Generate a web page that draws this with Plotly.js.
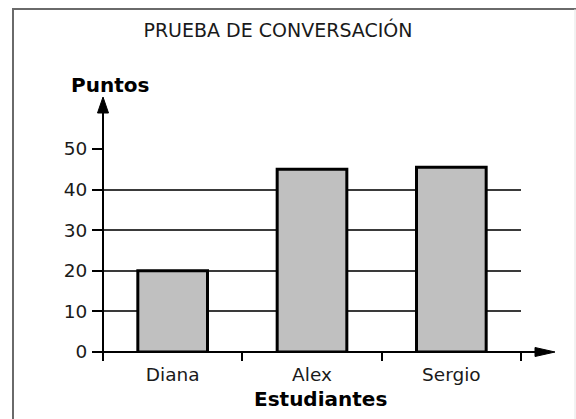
<!DOCTYPE html>
<html>
<head>
<meta charset="utf-8">
<script src="https://cdn.plot.ly/plotly-3.0.1.min.js"></script>
<style>html,body{margin:0;padding:0;background:#fff;}#chart{width:576px;height:419px;}</style>
</head>
<body>
<div id="chart"></div>
<script>
// Data
var students = ["Diana", "Alex", "Sergio"];
var points = [20, 45, 45.5];
var yTicks = [0, 10, 20, 30, 40, 50];
var chartTitle = "PRUEBA DE CONVERSACIÓN";
var yLabel = "Puntos";
var xLabel = "Estudiantes";

// Layout geometry (pixels)
var W = 576, H = 419;
var L = 103, R = 55, T = 149, B = 67;
var pw = W - L - R, ph = H - T - B;
function px(x) { return (x - L) / pw; }
function py(y) { return (H - B - y) / ph; }

var font = "DejaVu Sans, Verdana, sans-serif";

var trace = {
  type: "bar",
  x: students,
  y: points,
  marker: { color: "#c0c0c0", line: { color: "#000", width: 3 } },
  hoverinfo: "x+y"
};

var shapes = [
  // frame
  { type: "line", xref: "paper", yref: "paper", x0: px(13), x1: px(13), y0: py(9), y1: py(430), line: { color: "#6a6a6a", width: 2 } },
  { type: "line", xref: "paper", yref: "paper", x0: px(12), x1: px(576), y0: py(9), y1: py(9), line: { color: "#6a6a6a", width: 2 } },
  { type: "line", xref: "paper", yref: "paper", x0: px(575), x1: px(575), y0: py(9), y1: py(430), line: { color: "#e4e4e4", width: 1 } },
  // y axis line
  { type: "line", xref: "paper", yref: "paper", x0: 0, x1: 0, y0: py(360), y1: py(108), line: { color: "#000", width: 2 } },
  // y arrow head
  { type: "path", xref: "paper", yref: "paper",
    path: "M" + px(103) + "," + py(97) + " L" + px(97.5) + "," + py(113) + " L" + px(108.5) + "," + py(113) + " Z",
    fillcolor: "#000", line: { color: "#000", width: 1 } },
  // x axis line
  { type: "line", xref: "paper", yref: "paper", x0: px(93), x1: px(540), y0: 0, y1: 0, line: { color: "#000", width: 2 } },
  // x arrow head
  { type: "path", xref: "paper", yref: "paper",
    path: "M" + px(555) + "," + py(352) + " L" + px(535) + "," + py(347.5) + " L" + px(535) + "," + py(356.5) + " Z",
    fillcolor: "#000", line: { color: "#000", width: 1 } }
];

var layout = {
  width: W, height: H,
  margin: { l: L, r: R, t: T, b: B, pad: 0 },
  paper_bgcolor: "#fff",
  plot_bgcolor: "#fff",
  showlegend: false,
  bargap: 0.5,
  font: { family: font, color: "#1a1a1a", size: 18 },
  title: {
    text: chartTitle,
    xref: "container", yref: "container",
    x: 278 / W, xanchor: "center",
    y: 1 - 30 / H, yanchor: "middle",
    font: { family: font, size: 19, color: "#1a1a1a" }
  },
  xaxis: {
    type: "category",
    range: [-0.5, 2.5],
    tickson: "boundaries",
    ticks: "outside", ticklen: 8, tickwidth: 2, tickcolor: "#000",
    ticklabelstandoff: 9,
    showline: false, showgrid: false, zeroline: false,
    tickfont: { family: font, size: 18.5, color: "#1a1a1a" },
    fixedrange: true
  },
  yaxis: {
    range: [0, 50],
    tickvals: yTicks,
    ticktext: yTicks.map(String),
    ticks: "outside", ticklen: 10, tickwidth: 2, tickcolor: "#000",
    ticklabelstandoff: 1,
    showgrid: true, gridcolor: "#3a3a3a", gridwidth: 1.8,
    zeroline: false, showline: false,
    tickfont: { family: font, size: 18.5, color: "#1a1a1a" },
    fixedrange: true
  },
  shapes: shapes,
  annotations: [
    { xref: "paper", yref: "paper", x: px(110), y: py(85), xanchor: "center", yanchor: "middle",
      text: "<b>" + yLabel + "</b>", showarrow: false, font: { family: font, size: 20, color: "#000" } },
    { xref: "paper", yref: "paper", x: px(320), y: py(399), xanchor: "center", yanchor: "middle",
      text: "<b>" + xLabel + "</b>", showarrow: false, font: { family: font, size: 20, color: "#000" } }
  ]
};

Plotly.newPlot("chart", [trace], layout, { displayModeBar: false, staticPlot: true });
</script>
</body>
</html>
